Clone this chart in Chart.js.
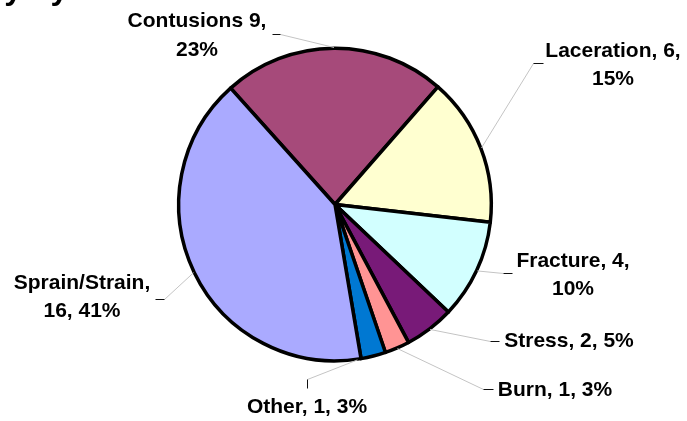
<!DOCTYPE html>
<html><head><meta charset="utf-8">
<script src="https://cdn.jsdelivr.net/npm/chart.js@4/dist/chart.umd.min.js"></script>
<style>html,body{margin:0;padding:0;background:#fff;overflow:hidden}#wrap{width:687px;height:421px;position:relative}</style>
</head><body><div id="wrap"><canvas id="c" width="687" height="421"></canvas></div>
<script>
// ---- data ----
const categories = ['Contusions', 'Laceration', 'Fracture', 'Stress', 'Burn', 'Other', 'Sprain/Strain'];
const counts = [9, 6, 4, 2, 1, 1, 16];
const percents = [23, 15, 10, 5, 3, 3, 41];
const labelTexts = [
  ['Contusions 9,', '23%'],
  ['Laceration, 6,', '15%'],
  ['Fracture, 4,', '10%'],
  ['Stress, 2, 5%'],
  ['Burn, 1, 3%'],
  ['Other, 1, 3%'],
  ['Sprain/Strain,', '16, 41%']
];
const titleText = 'Injury by Nature';

// ---- styles / layout ----
const sliceColors = ['#A64A7A', '#FFFFD0', '#D2FFFF', '#781A78', '#FF9494', '#0078D2', '#AAAAFF'];
const labelLayout = [
  {x: 197, y: 27,  lh: 28.5, elbow: [280, 34],  dash: [272, 34]},
  {x: 613, y: 57,  lh: 27.5, elbow: [533, 63],  dash: [543, 63]},
  {x: 573, y: 267, lh: 28,   elbow: [503, 273], dash: [512, 273]},
  {x: 569, y: 347, lh: 28,   elbow: [490, 341], dash: [499, 341]},
  {x: 555, y: 396, lh: 28,   elbow: [483, 389], dash: [493, 389]},
  {x: 307, y: 413, lh: 28,   elbow: [307, 379], dash: [307, 388], shift: 6},
  {x: 82,  y: 289, lh: 28,   elbow: [164, 299], dash: [155, 299]}
];
const labelFont = 'bold 21px "Liberation Sans", Arial, sans-serif';

const labelPlugin = {
  id: 'pieLabels',
  afterDatasetsDraw(chart) {
    const ctx = chart.ctx;
    const meta = chart.getDatasetMeta(0);
    ctx.save();
    // clipped title (only descenders visible)
    ctx.font = 'bold 32px "Liberation Sans", Arial, sans-serif';
    ctx.fillStyle = '#000';
    ctx.textAlign = 'left';
    ctx.textBaseline = 'alphabetic';
    ctx.fillText(titleText, -65, -1.5);

    meta.data.forEach((arc, i) => {
      const L = labelLayout[i];
      const bw = 3.5;
      const mid = (arc.startAngle + arc.endAngle) / 2 + (L.shift || 0) * Math.PI / 180;
      const r = arc.outerRadius + bw / 2 - 1;
      const ax = arc.x + Math.cos(mid) * r;
      const ay = arc.y + Math.sin(mid) * r;
      ctx.lineWidth = 1;
      ctx.strokeStyle = '#C4C4C4';
      ctx.beginPath();
      ctx.moveTo(ax, ay);
      ctx.lineTo(L.elbow[0] + 0.5, L.elbow[1] + 0.5);
      ctx.stroke();
      ctx.strokeStyle = '#111';
      ctx.beginPath();
      ctx.moveTo(L.elbow[0] + 0.5, L.elbow[1] + 0.5);
      ctx.lineTo(L.dash[0] + 0.5, L.dash[1] + 0.5);
      ctx.stroke();

      ctx.font = labelFont;
      ctx.fillStyle = '#000';
      ctx.textAlign = 'center';
      ctx.textBaseline = 'alphabetic';
      labelTexts[i].forEach((t, k) => ctx.fillText(t, L.x, L.y + k * L.lh));
    });
    ctx.restore();
  }
};

new Chart(document.getElementById('c'), {
  type: 'pie',
  data: {
    labels: categories,
    datasets: [{
      data: counts,
      backgroundColor: sliceColors,
      borderColor: '#000',
      borderWidth: 3.5,
      borderJoinStyle: 'round',
      radius: 156.3
    }]
  },
  options: {
    responsive: false,
    animation: false,
    rotation: -41.9,
    layout: {padding: {left: 0, right: 17, top: 0, bottom: 12}},
    plugins: {legend: {display: false}, tooltip: {enabled: false}, title: {display: false}}
  },
  plugins: [labelPlugin]
});
</script>
</body></html>
